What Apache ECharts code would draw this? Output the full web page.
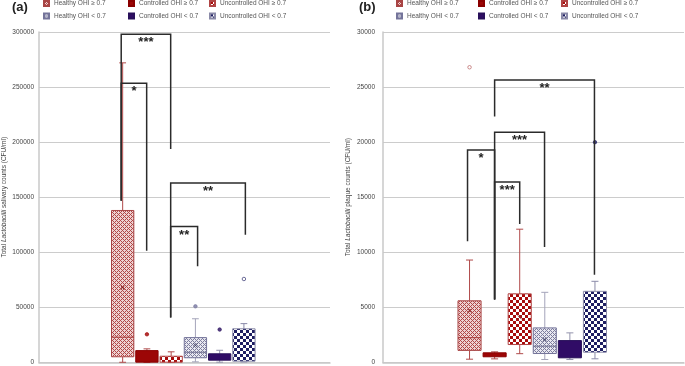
<!DOCTYPE html>
<html>
<head>
<meta charset="utf-8">
<script src="https://cdn.jsdelivr.net/npm/echarts@6/dist/echarts.min.js"></script>
<style>
html, body { margin: 0; padding: 0; background: #fff; }
#main { width: 685px; height: 366px; }
</style>
</head>
<body>
<div id="main"></div>
<script>
const groups = ['Healthy OHI ≥ 0.7', 'Controlled OHI ≥ 0.7', 'Uncontrolled OHI ≥ 0.7',
	'Healthy OHI < 0.7', 'Controlled OHI < 0.7', 'Uncontrolled OHI < 0.7'];
const boxPos = [3.45, 4.45, 5.45, 6.45, 7.45, 8.45];

// [min, q1, median, q3, max, mean]  (null = not drawn)
const salivaStats = [
	[200, 5200, 23000, 138000, 272000, 68000],
	[100, 300, null, 10800, 12400, null],
	[100, 300, null, 5700, 9700, null],
	[600, 4300, 9300, 22600, 39700, 15700],
	[300, 2100, null, 7900, 11100, null],
	[500, 1200, null, 30600, 35300, null]
];
// [group, value, open circle?]
const salivaOutliers = [[1, 25600, false], [3, 51000, false], [4, 29900, false], [5, 75800, true]];

const plaqueStats = [
	[300, 1100, 2250, 5600, 9300, 4700],
	[330, 520, null, 880, 970, null],
	[800, 1630, null, 6230, 12100, 4100],
	[270, 815, 1480, 3140, 6370, 2085],
	[270, 425, null, 1990, 2690, null],
	[335, 935, null, 6460, 7370, null]
];
const plaqueOutliers = [[0, 26800, true], [5, 20000, false]];

// [xLeft, xRight, top, leftBottom, rightBottom]
const salivaBrackets = [
	[3.39, 5.43, 298000, 146800, 193700],
	[3.39, 4.44, 253500, 146800, 101500],
	[5.43, 8.51, 162900, 40800, 116000],
	[5.43, 6.54, 123500, 40800, 87300]
];
const salivaStars = ['***', '*', '**', '**'];
const plaqueBrackets = [
	[4.45, 8.43, 25650, 22320, 7975],
	[4.45, 6.44, 20910, 5710, 10490],
	[3.37, 4.45, 19300, 11000, 5710],
	[4.45, 5.45, 16380, 5710, 12570]
];
const plaqueStars = ['**', '***', '*', '***'];

const salivaTicks = [0, 300000, 50000];
const plaqueTicks = [0, 30000, 5000];

function makePattern(kind, fg, bg) {
	const c = document.createElement('canvas');
	const n = kind === 'checker' ? 6 : 4;
	c.width = n;
	c.height = n;
	const ctx = c.getContext('2d');
	ctx.fillStyle = bg;
	ctx.fillRect(0, 0, n, n);
	ctx.fillStyle = fg;
	if (kind === 'checker') {
		ctx.fillRect(0, 0, 3, 3);
		ctx.fillRect(3, 3, 3, 3);
	} else {
		for (let x = 0; x < n; x++) {
			for (let y = 0; y < n; y++) {
				if ((x + y) % 4 === 0 || (x - y + 4) % 4 === 0) ctx.fillRect(x, y, 1, 1);
			}
		}
	}
	return { image: c, repeat: 'repeat' };
}

const styles = [
	{ fill: makePattern('hatch', '#b04848', '#eed2d2'), border: '#a84444', whisker: '#b04a4a', median: '#a83a3a', mean: '#8a2a2a' },
	{ fill: '#9c0606', border: '#8a0000', whisker: '#b05050', median: '#8a0000', mean: '#8a0000' },
	{ fill: makePattern('checker', '#a80c0c', '#ffffff'), border: '#b04444', whisker: '#b04a4a', median: '#a83a3a', mean: '#8a2a2a' },
	{ fill: makePattern('hatch', '#7e7e9e', '#e8e8f0'), border: '#74749a', whisker: '#a4a4ba', median: '#6e6e8e', mean: '#444466' },
	{ fill: '#300c66', border: '#28105a', whisker: '#9494ac', median: '#28105a', mean: '#28105a' },
	{ fill: makePattern('checker', '#1e1e62', '#ffffff'), border: '#8a8aa8', whisker: '#8a8aa8', median: '#44446a', mean: '#444466' }
];
const outlierColors = ['#b05050', '#a00000', '#a00000', '#7878a0', '#2a1060', '#1e1e62'];

function seg(x1, y1, x2, y2, color) {
	return { type: 'line', shape: { x1: x1, y1: y1, x2: x2, y2: y2 }, style: { stroke: color, lineWidth: 1 } };
}

function boxRenderer(g) {
	const st = styles[g];
	return function (params, api) {
		const x = api.value(0);
		const bw = api.size([1, 0])[0];
		const half = bw * 0.46, cap = bw * 0.14;
		const pMin = api.coord([x, api.value(1)]);
		const pQ1 = api.coord([x, api.value(2)]);
		const pQ3 = api.coord([x, api.value(4)]);
		const pMax = api.coord([x, api.value(5)]);
		const cx = pMin[0];
		const children = [
			seg(cx, pMax[1], cx, pQ3[1], st.whisker),
			seg(cx, pQ1[1], cx, pMin[1], st.whisker),
			seg(cx - cap, pMax[1], cx + cap, pMax[1], st.whisker),
			seg(cx - cap, pMin[1], cx + cap, pMin[1], st.whisker),
			{
				type: 'rect',
				shape: { x: cx - half, y: pQ3[1], width: half * 2, height: Math.max(pQ1[1] - pQ3[1], 1) },
				style: { fill: st.fill, stroke: st.border, lineWidth: 1 }
			}
		];
		const med = api.value(3);
		if (med > 0) {
			const pm = api.coord([x, med]);
			children.push(seg(cx - half, pm[1], cx + half, pm[1], st.median));
		}
		const mean = api.value(6);
		if (mean > 0) {
			const pa = api.coord([x, mean]);
			children.push(seg(cx - 2, pa[1] - 2, cx + 2, pa[1] + 2, st.mean));
			children.push(seg(cx - 2, pa[1] + 2, cx + 2, pa[1] - 2, st.mean));
		}
		return { type: 'group', children: children };
	};
}

function bracketRenderer(stars) {
	return function (params, api) {
		const tl = api.coord([api.value(0), api.value(2)]);
		const tr = api.coord([api.value(1), api.value(2)]);
		const bl = api.coord([api.value(0), api.value(3)]);
		const br = api.coord([api.value(1), api.value(4)]);
		return {
			type: 'group',
			children: [{
				type: 'polyline',
				shape: { points: [bl, tl, tr, br] },
				style: { stroke: '#2b2b2b', lineWidth: 1.5, fill: null }
			}, {
				type: 'text',
				x: (tl[0] + tr[0]) / 2,
				y: tl[1] + 2,
				style: {
					text: stars[params.dataIndex],
					align: 'center',
					verticalAlign: 'top',
					fontSize: 13,
					fontWeight: 'bold',
					fontFamily: 'Liberation Sans',
					fill: '#222'
				}
			}]
		};
	};
}

const panels = [
	{ stats: salivaStats, outliers: salivaOutliers, brackets: salivaBrackets, stars: salivaStars, ticks: salivaTicks,
		label: '(a)', kind: 'salivary', left: 39, width: 291, labelMargin: 5, legendX: [43, 128, 209], titleX: 12 },
	{ stats: plaqueStats, outliers: plaqueOutliers, brackets: plaqueBrackets, stars: plaqueStars, ticks: plaqueTicks,
		label: '(b)', kind: 'plaque', left: 383, width: 301, labelMargin: 8, legendX: [396, 478, 561], titleX: 359 }
];

const grid = [], xAxis = [], yAxis = [], series = [], legend = [], title = [];
panels.forEach(function (p, pi) {
	grid.push({ left: p.left, top: 32, width: p.width, height: 331 });
	xAxis.push({
		type: 'value', gridIndex: pi, min: 0, max: 12,
		axisLine: { show: true, lineStyle: { color: '#c8c8c8', width: 1.5 } },
		axisTick: { show: false }, axisLabel: { show: false }, splitLine: { show: false }
	});
	yAxis.push({
		type: 'value', gridIndex: pi, min: p.ticks[0], max: p.ticks[1], interval: p.ticks[2],
		name: '{n|Total }{i|Lactobacilli}{n| ' + p.kind + ' counts (CFU/ml)}',
		nameLocation: 'middle', nameRotate: 90, nameGap: 31,
		nameTextStyle: {
			rich: {
				n: { fontSize: 6.5, color: '#444', fontFamily: 'Liberation Sans' },
				i: { fontSize: 6.5, color: '#444', fontStyle: 'italic', fontFamily: 'Liberation Sans' }
			}
		},
		axisLine: { show: true, lineStyle: { color: '#c8c8c8', width: 1.5 } },
		axisTick: { show: false },
		axisLabel: {
			fontSize: 6.5, color: '#444', margin: p.labelMargin, fontFamily: 'Liberation Sans',
			formatter: function (v) { return String(v); }
		},
		splitLine: { lineStyle: { color: '#cccccc', width: 1 } }
	});
	title.push({
		text: p.label, left: p.titleX, top: 1, padding: 0,
		textStyle: { fontSize: 13, fontWeight: 'bold', color: '#222', fontFamily: 'Liberation Sans' }
	});
	groups.forEach(function (name, g) {
		series.push({
			type: 'custom', name: name, xAxisIndex: pi, yAxisIndex: pi,
			itemStyle: { color: styles[g].fill, borderColor: styles[g].border, borderWidth: 0.8 },
			renderItem: boxRenderer(g),
			data: [[boxPos[g]].concat(p.stats[g])],
			z: 3
		});
		legend.push({
			data: [name], left: p.legendX[g % 3], top: g < 3 ? 0 : 12.5, padding: 0,
			icon: 'rect', itemWidth: 5, itemHeight: 5, selectedMode: false,
			textStyle: { fontSize: 6.5, color: '#555', fontFamily: 'Liberation Sans' }
		});
	});
	const pts = p.outliers.map(function (o) {
		const c = outlierColors[o[0]];
		return {
			value: [boxPos[o[0]], o[1]],
			itemStyle: { color: o[2] ? '#ffffff' : c, borderColor: c }
		};
	});
	series.push({
		type: 'scatter', name: 'outliers' + pi, xAxisIndex: pi, yAxisIndex: pi,
		symbol: 'circle', symbolSize: 3.5, itemStyle: { borderWidth: 0.8 },
		data: pts, z: 4
	});
	series.push({
		type: 'custom', name: 'brackets' + pi, xAxisIndex: pi, yAxisIndex: pi,
		renderItem: bracketRenderer(p.stars),
		data: p.brackets, z: 5, clip: false
	});
});

const myChart = echarts.init(document.getElementById('main'));
myChart.setOption({
	animation: false,
	backgroundColor: '#fff',
	textStyle: { fontFamily: 'Liberation Sans' },
	title: title,
	legend: legend,
	grid: grid,
	xAxis: xAxis,
	yAxis: yAxis,
	series: series
});
</script>
</body>
</html>
